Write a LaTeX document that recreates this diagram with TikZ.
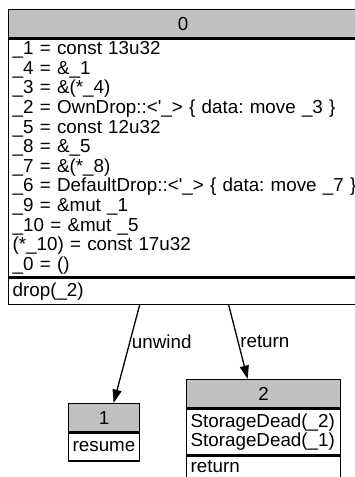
\documentclass[tikz,border=0pt]{standalone}
\usepackage{fontspec}
\setmainfont{Liberation Sans}
\usepackage{tikz}
\usetikzlibrary{arrows.meta}
\usetikzlibrary{positioning}
\definecolor{HeadGray}{RGB}{192,192,192}
\newcommand{\mirFont}{\fontsize{18.8}{19.6}\selectfont\frenchspacing\lineskiplimit=-30pt}
\tikzset{
	mirbox/.style={draw, line width=1.3pt, inner xsep=4pt, inner ysep=0pt, font=\mirFont},
	mirhead/.style={mirbox, fill=HeadGray, minimum height=28pt, align=center, anchor=north west},
	mirbody/.style={mirbox, align=left},
	mirflow/.style={line width=1.3pt, -{Triangle[length=13.4pt, width=9pt]}},
	mirlabel/.style={font=\mirFont, inner sep=1.5pt, anchor=west},
}

\begin{document}
\begin{tikzpicture}[x=1pt, y=-1pt]
	
		\clip (0,0) rectangle (355,477);
		
		% block 0
		\node [mirhead, minimum width=349pt] (b0head) at (8,9) {0};
		\node [mirbody, text width=341pt, minimum height=238pt, below right=0pt and 0pt of b0head.south west] (b0body) {%
			\_1 = const 13u32\\
			\_4 = \&\_1\\
			\_3 = \&(*\_4)\\
			\mbox{\_2 = OwnDrop::<\textquotesingle\_> \{ data: move \_3 \}}\\
			\_5 = const 12u32\\
			\_8 = \&\_5\\
			\_7 = \&(*\_8)\\
			\mbox{\_6 = DefaultDrop::<\textquotesingle\_> \{ data: move \_7 \}}\\
			\_9 = \&mut \_1\\
			\_10 = \&mut \_5\\
			(*\_10) = const 17u32\\
			\_0 = ()};
		\node [mirbody, text width=341pt, minimum height=26pt, below right=0pt and 0pt of b0body.south west] (b0term) {drop(\_2)};
		
		% block 1
		\node [mirhead, minimum width=71pt] (b1head) at (68,403) {1};
		\node [mirbody, text width=63pt, minimum height=28pt, below right=0pt and 0pt of b1head.south west] (b1body) {resume};
		
		% block 2
		\node [mirhead, minimum width=154pt] (b2head) at (186,379) {2};
		\node [mirbody, text width=146pt, minimum height=46pt, below right=0pt and 0pt of b2head.south west] (b2body) {%
			StorageDead(\_2)\\
			StorageDead(\_1)};
		\node [mirbody, text width=146pt, text depth=4pt, minimum height=25pt, below right=0pt and 0pt of b2body.south west] (b2term) {return};
		
		\draw [mirflow] ([xshift=-43.5pt]b0term.south) -- ([xshift=9.5pt]b1head.north) node [mirlabel, pos=0.38] {unwind};
		\draw [mirflow] ([xshift=45.5pt]b0term.south) -- ([xshift=-16pt]b2head.north) node [mirlabel, pos=0.5] {return};
	\end{tikzpicture}
\end{document}
